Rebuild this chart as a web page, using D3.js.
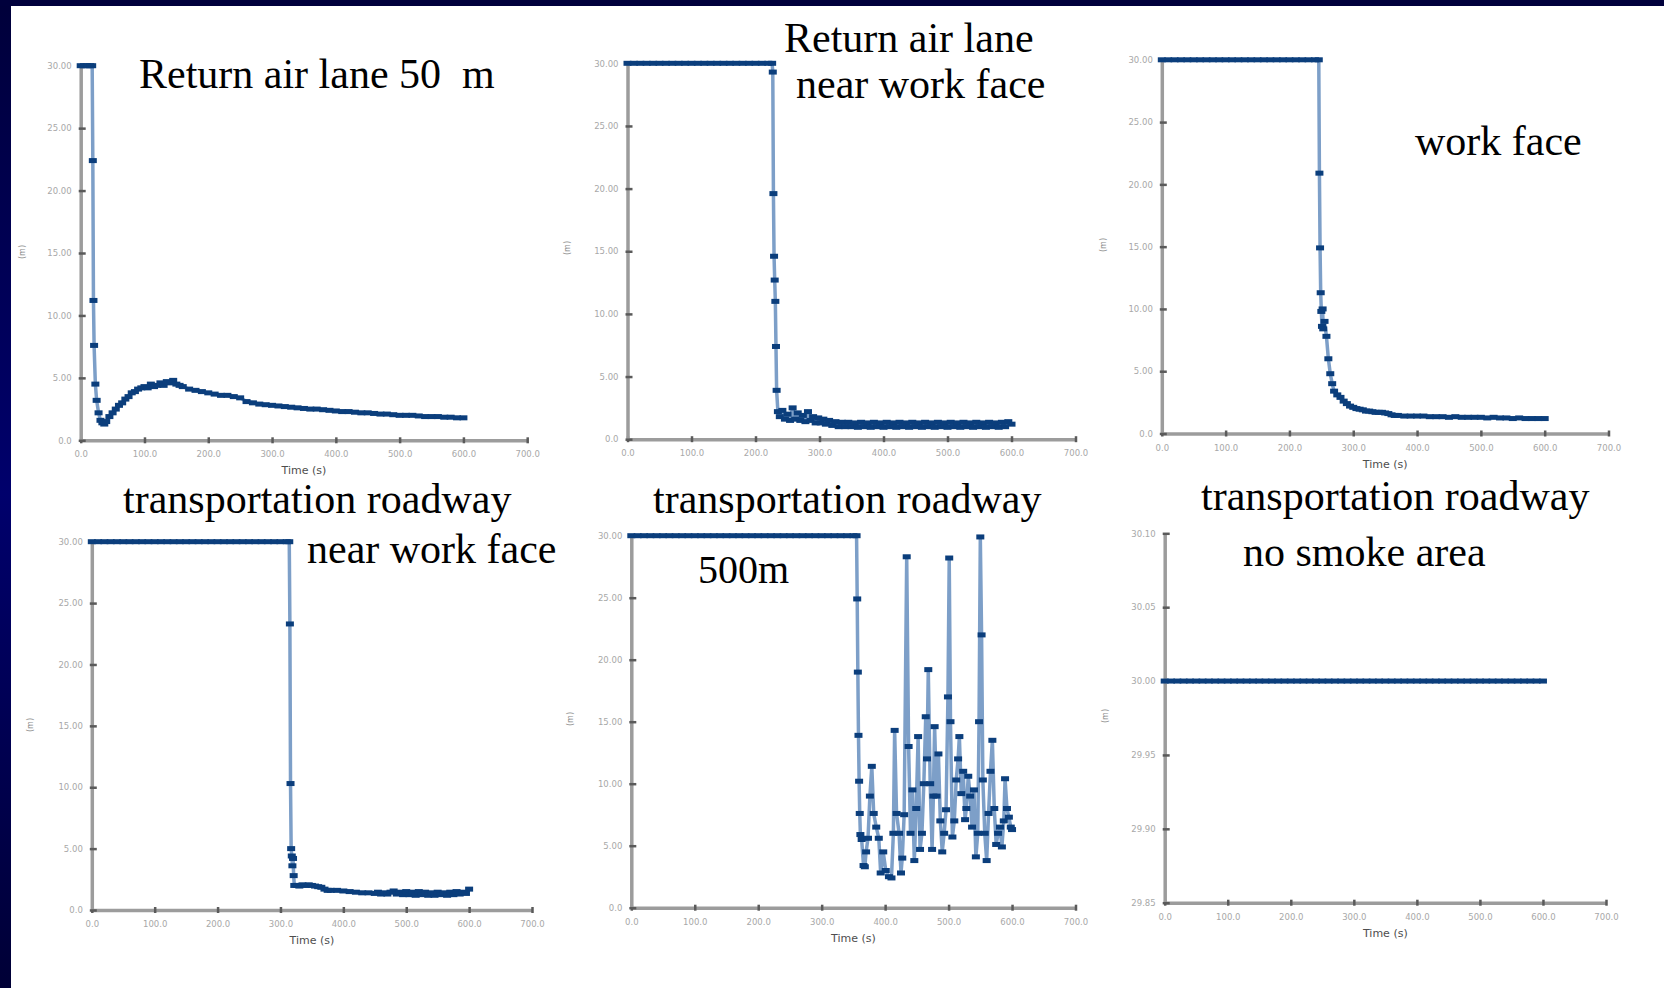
<!DOCTYPE html>
<html>
<head>
<meta charset="utf-8">
<script src="https://cdn.jsdelivr.net/npm/d3@7"></script>
<style>
  html, body { margin: 0; padding: 0; background: #ffffff; }
  svg { display: block; }
</style>
</head>
<body>
<svg id="chart" width="1664" height="988"></svg>
<script>
// ---------- tick values and labels ----------
const timeTicks = [0, 100, 200, 300, 400, 500, 600, 700];
const timeTickLabels = ["0.0", "100.0", "200.0", "300.0", "400.0", "500.0", "600.0", "700.0"];
const levelTicks = [0, 5, 10, 15, 20, 25, 30];
const levelTickLabels = ["0.0", "5.00", "10.00", "15.00", "20.00", "25.00", "30.00"];
const flatTicks = [29.85, 29.90, 29.95, 30.00, 30.05, 30.10];
const flatTickLabels = ["29.85", "29.90", "29.95", "30.00", "30.05", "30.10"];

// ---------- panel titles ----------
const titles = [
  ["Return air lane 50\u00a0 m"],
  ["Return air lane", "near work face"],
  ["work face"],
  ["transportation roadway", "near work face"],
  ["transportation roadway", "500m"],
  ["transportation roadway", "no smoke area"]
];

// ---------- monitored series: [time (s), value] ----------
const returnAirLane50m = [
  [0,30],[5,30],[10,30],[15,30],[18,30],[19,22.4],[20,11.2],[21,7.6],[23,4.5],[25,3.2],
  [28,2.2],[31,1.6],[34,1.4],[37,1.3],[40,1.5],[45,1.9],[50,2.2],[55,2.5],[60,2.8],[65,3.0],
  [70,3.3],[75,3.5],[80,3.8],[85,3.9],[90,4.1],[95,4.2],[100,4.3],[105,4.2],[110,4.5],[115,4.3],
  [120,4.4],[125,4.6],[130,4.4],[135,4.7],[140,4.6],[145,4.8],[150,4.5],[155,4.4],[160,4.3],
  [170,4.1],[180,4.0],[190,3.9],[200,3.8],[210,3.7],[220,3.6],[230,3.6],[240,3.5],[250,3.4],[260,3.1],
  [270,3.0],[280,2.9],[290,2.85],[300,2.8],[310,2.75],[320,2.7],[330,2.65],[340,2.6],[350,2.55],[360,2.5],
  [370,2.5],[380,2.45],[390,2.4],[400,2.35],[410,2.3],[420,2.3],[430,2.25],[440,2.2],[450,2.2],[460,2.15],
  [470,2.1],[480,2.1],[490,2.05],[500,2.0],[510,2.0],[520,2.0],[530,1.95],[540,1.9],[550,1.9],[560,1.9],
  [570,1.85],[580,1.85],[590,1.8],[600,1.8]
];

const returnAirNearFace = [
  [0,30],[10,30],[20,30],[30,30],[40,30],[50,30],[60,30],[70,30],[80,30],[90,30],[100,30],
  [110,30],[120,30],[130,30],[140,30],[150,30],[160,30],[170,30],[180,30],[190,30],[200,30],
  [210,30],[220,30],[226,30],[227,29.3],[228,19.6],[229,14.6],[230,12.7],[231,11.0],[232,7.4],
  [233,3.9],[235,2.2],[238,1.8],[242,2.3],[246,1.6],[250,2.0],[254,1.5],[258,2.5],[262,1.6],
  [266,2.1],[270,1.5],[274,1.9],[278,1.4],[282,2.2],[286,1.5],[290,1.8],[294,1.3],[298,1.7],
  [302,1.3],[306,1.6],[310,1.2],[315,1.5],[320,1.1],[325,1.4],[330,1.0],[335,1.35],[340,1.0],
  [345,1.35],[350,1.0],[355,1.3],[360,0.95],[365,1.35],[370,1.0],[375,1.3],[380,0.95],[385,1.35],
  [390,1.0],[395,1.3],[400,0.95],[405,1.35],[410,1.0],[415,1.3],[420,0.95],[425,1.35],[430,1.0],
  [435,1.3],[440,0.95],[445,1.35],[450,1.0],[455,1.3],[460,0.95],[465,1.35],[470,1.0],[475,1.3],
  [480,0.95],[485,1.35],[490,1.0],[495,1.3],[500,0.95],[505,1.35],[510,1.0],[515,1.3],[520,0.95],
  [525,1.35],[530,1.0],[535,1.3],[540,0.95],[545,1.35],[550,1.0],[555,1.3],[560,0.95],[565,1.35],
  [570,1.0],[575,1.3],[580,0.95],[585,1.35],[590,1.0],[595,1.4],[600,1.2]
];

const workFace = [
  [0,30],[10,30],[20,30],[30,30],[40,30],[50,30],[60,30],[70,30],[80,30],[90,30],[100,30],
  [110,30],[120,30],[130,30],[140,30],[150,30],[160,30],[170,30],[180,30],[190,30],[200,30],
  [210,30],[220,30],[230,30],[240,30],[246,30],[247,20.9],[248,14.9],[249,11.3],[250,9.8],
  [251,8.6],[252,10.0],[253,8.4],[255,9.0],[258,7.8],[261,6.0],[264,4.8],[267,4.0],[270,3.4],
  [275,3.1],[280,2.9],[285,2.6],[290,2.4],[295,2.2],[300,2.1],[305,2.0],[310,1.95],[315,1.9],
  [320,1.8],[325,1.8],[330,1.75],[335,1.7],[340,1.7],[345,1.7],[350,1.65],[355,1.6],[360,1.5],
  [365,1.45],[370,1.45],[380,1.4],[390,1.4],[400,1.4],[410,1.4],[420,1.35],[430,1.35],[440,1.35],
  [450,1.3],[460,1.35],[470,1.3],[480,1.3],[490,1.3],[500,1.3],[510,1.25],[520,1.3],[530,1.25],
  [540,1.25],[550,1.2],[560,1.25],[570,1.2],[580,1.2],[590,1.2],[600,1.2]
];

const roadwayNearFace = [
  [0,30],[10,30],[20,30],[30,30],[40,30],[50,30],[60,30],[70,30],[80,30],[90,30],[100,30],
  [110,30],[120,30],[130,30],[140,30],[150,30],[160,30],[170,30],[180,30],[190,30],[200,30],
  [210,30],[220,30],[230,30],[240,30],[250,30],[260,30],[270,30],[280,30],[290,30],[300,30],
  [310,30],[314,30],[315,23.3],[316,10.3],[317,5.0],[318,4.4],[319,3.6],[320,4.2],[321,2.8],
  [322,2.0],[326,2.0],[330,1.95],[335,2.05],[340,2.0],[345,2.05],[350,2.0],[355,1.95],[360,1.9],
  [365,1.85],[370,1.7],[375,1.6],[380,1.6],[390,1.6],[400,1.55],[410,1.5],[420,1.45],[430,1.4],
  [440,1.4],[450,1.35],[455,1.45],[460,1.3],[465,1.4],[470,1.3],[475,1.45],[480,1.55],[485,1.3],
  [490,1.45],[495,1.25],[500,1.5],[505,1.25],[510,1.45],[515,1.2],[520,1.5],[525,1.25],[530,1.45],
  [535,1.2],[540,1.4],[545,1.2],[550,1.45],[555,1.25],[560,1.4],[565,1.2],[570,1.45],[575,1.25],
  [580,1.5],[585,1.3],[590,1.45],[595,1.35],[600,1.7]
];

const roadway500m = [
  [0,30],[10,30],[20,30],[30,30],[40,30],[50,30],[60,30],[70,30],[80,30],[90,30],[100,30],
  [110,30],[120,30],[130,30],[140,30],[150,30],[160,30],[170,30],[180,30],[190,30],[200,30],
  [210,30],[220,30],[230,30],[240,30],[250,30],[260,30],[270,30],[280,30],[290,30],[300,30],
  [310,30],[320,30],[330,30],[340,30],[350,30],[355,30],[356,24.9],[357,19.0],[358,13.9],
  [359,10.2],[360,7.6],[361,5.9],[363,5.5],[366,3.4],[368,3.3],[370,4.5],[373,5.6],[376,9.0],
  [379,11.4],[382,7.6],[386,6.5],[390,5.6],[393,2.8],[397,4.5],[401,3.0],[406,2.5],[410,2.4],
  [413,6.0],[415,14.3],[418,7.6],[422,6.0],[425,2.8],[427,4.0],[430,7.5],[434,28.3],[437,13.0],
  [440,6.0],[443,9.5],[446,3.8],[449,8.0],[452,13.8],[455,4.7],[458,6.0],[461,10.0],[464,15.4],
  [466,12.0],[468,19.2],[471,10.0],[474,4.7],[476,9.0],[478,14.6],[481,9.0],[484,12.4],[487,7.0],
  [490,4.5],[493,6.0],[496,7.9],[499,17.0],[501,28.2],[503,15.0],[506,5.7],[509,7.0],[512,10.3],
  [515,12.0],[517,13.8],[520,9.2],[523,11.0],[526,7.1],[528,8.0],[531,10.6],[534,9.0],[537,6.5],
  [540,9.5],[543,4.1],[546,6.0],[548,15.0],[550,29.9],[552,22.0],[554,10.3],[557,6.0],[560,3.8],
  [563,7.6],[566,11.0],[569,13.5],[572,8.0],[575,5.1],[578,6.0],[581,6.5],[584,4.9],[587,7.0],
  [589,10.4],[592,8.0],[595,7.3],[598,6.5],[600,6.3]
];

const roadwayNoSmoke = [
  [0,30],[10,30],[20,30],[30,30],[40,30],[50,30],[60,30],[70,30],[80,30],[90,30],[100,30],
  [110,30],[120,30],[130,30],[140,30],[150,30],[160,30],[170,30],[180,30],[190,30],[200,30],
  [210,30],[220,30],[230,30],[240,30],[250,30],[260,30],[270,30],[280,30],[290,30],[300,30],
  [310,30],[320,30],[330,30],[340,30],[350,30],[360,30],[370,30],[380,30],[390,30],[400,30],
  [410,30],[420,30],[430,30],[440,30],[450,30],[460,30],[470,30],[480,30],[490,30],[500,30],
  [510,30],[520,30],[530,30],[540,30],[550,30],[560,30],[570,30],[580,30],[590,30],[600,30]
];

// ---------- panel frames ----------
const level = { domain: [0, 30], ticks: levelTicks, labels: levelTickLabels };
const flat = { domain: [29.85, 30.10], ticks: flatTicks, labels: flatTickLabels };

const panels = [
  { series: returnAirLane50m, axis: level, left: 80.7, right: 527.2, top: 65.7, bottom: 440.3,
    title: titles[0], titleAt: [[139, 88, 42]], unitAt: [22, 252], timeLabel: true },
  { series: returnAirNearFace, axis: level, left: 627.5, right: 1075.5, top: 63.3, bottom: 439.2,
    title: titles[1], titleAt: [[784, 52, 42], [796, 98, 42]], unitAt: [567, 248], timeLabel: false },
  { series: workFace, axis: level, left: 1161.8, right: 1608.5, top: 59.8, bottom: 433.5,
    title: titles[2], titleAt: [[1415, 155, 42]], unitAt: [1103, 245], timeLabel: true },
  { series: roadwayNearFace, axis: level, left: 91.8, right: 532, top: 541.7, bottom: 910,
    title: titles[3], titleAt: [[123, 513, 42], [307, 563, 42]], unitAt: [30, 725], timeLabel: true },
  { series: roadway500m, axis: level, left: 631.3, right: 1075.5, top: 535.7, bottom: 907.7,
    title: titles[4], titleAt: [[653, 513, 42], [698, 583, 40]], unitAt: [570, 719], timeLabel: true },
  { series: roadwayNoSmoke, axis: flat, left: 1164.7, right: 1606, top: 533.3, bottom: 902.7,
    title: titles[5], titleAt: [[1201, 510, 42], [1243, 566, 42]], unitAt: [1105, 716], timeLabel: true }
];

const svg = d3.select("#chart");

// slide frame: navy strips on the top and left edges
const defs = svg.append("defs");
const grad = defs.append("linearGradient").attr("id", "edgeNavy")
  .attr("x1", 0).attr("y1", 0).attr("x2", 0).attr("y2", 1);
grad.append("stop").attr("offset", "0%").attr("stop-color", "#00003a");
grad.append("stop").attr("offset", "50%").attr("stop-color", "#00006c");
grad.append("stop").attr("offset", "100%").attr("stop-color", "#000036");

svg.append("rect").attr("x", 0).attr("y", 0).attr("width", 1664).attr("height", 988).attr("fill", "#ffffff");
svg.append("rect").attr("x", 0).attr("y", 0).attr("width", 11).attr("height", 988).attr("fill", "url(#edgeNavy)");
svg.append("rect").attr("x", 0).attr("y", 0).attr("width", 1664).attr("height", 6).attr("fill", "#00003c");

const LINE_COLOR = "#7d9fc8";
const MARK_COLOR = "#0b3e7c";

panels.forEach(p => {
  const g = svg.append("g");
  const x = d3.scaleLinear().domain([0, 700]).range([p.left, p.right]);
  const y = d3.scaleLinear().domain(p.axis.domain).range([p.bottom, p.top]);

  // x axis
  const xAxis = d3.axisBottom(x)
    .tickValues(timeTicks)
    .tickFormat((d, i) => timeTickLabels[i])
    .tickSizeInner(3).tickSizeOuter(0).tickPadding(8);
  const gx = g.append("g").attr("transform", `translate(0,${p.bottom})`).call(xAxis);
  gx.select(".domain").attr("stroke", "#9c9c9c").attr("stroke-width", 3.5);
  gx.selectAll(".tick line").attr("y1", -3).attr("y2", 3).attr("stroke", "#5a5a5a").attr("stroke-width", 2.5);
  gx.selectAll(".tick text").attr("fill", "#a8a8a8").attr("font-size", 8.5)
    .attr("font-family", "DejaVu Sans, sans-serif");

  // y axis
  const yAxis = d3.axisLeft(y)
    .tickValues(p.axis.ticks)
    .tickFormat((d, i) => p.axis.labels[i])
    .tickSizeInner(2).tickSizeOuter(0).tickPadding(7);
  const gy = g.append("g").attr("transform", `translate(${p.left},0)`).call(yAxis);
  gy.select(".domain").attr("stroke", "#9c9c9c").attr("stroke-width", 3.5);
  gy.selectAll(".tick line").attr("x1", -2).attr("x2", 5).attr("stroke", "#5a5a5a").attr("stroke-width", 2.5);
  gy.selectAll(".tick text").attr("fill", "#a8a8a8").attr("font-size", 8.5)
    .attr("font-family", "DejaVu Sans, sans-serif");

  // axis captions
  if (p.timeLabel) {
    g.append("text")
      .attr("x", (p.left + p.right) / 2).attr("y", p.bottom + 34)
      .attr("text-anchor", "middle")
      .attr("font-family", "DejaVu Sans, sans-serif").attr("font-size", 11)
      .attr("fill", "#4e4e4e")
      .text("Time (s)");
  }
  g.append("text")
    .attr("transform", `translate(${p.unitAt[0]},${p.unitAt[1]}) rotate(-90)`)
    .attr("text-anchor", "middle").attr("dy", "0.35em")
    .attr("font-family", "DejaVu Sans, sans-serif").attr("font-size", 8)
    .attr("fill", "#8a8a8a")
    .text("(m)");

  // series line and sample markers
  const line = d3.line().x(d => x(d[0])).y(d => y(d[1]));
  g.append("path").datum(p.series)
    .attr("fill", "none").attr("stroke", LINE_COLOR).attr("stroke-width", 3.5)
    .attr("stroke-linejoin", "round")
    .attr("d", line);
  g.selectAll("rect.mark").data(p.series).join("rect")
    .attr("class", "mark")
    .attr("x", d => x(d[0]) - 4).attr("y", d => y(d[1]) - 2.5)
    .attr("width", 8).attr("height", 5)
    .attr("fill", MARK_COLOR);

  // title
  p.title.forEach((t, i) => {
    const [tx, ty, fs] = p.titleAt[i];
    g.append("text")
      .attr("x", tx).attr("y", ty)
      .attr("font-family", "Liberation Serif, Times New Roman, serif")
      .attr("font-size", fs)
      .attr("fill", "#000000")
      .style("white-space", "pre")
      .text(t);
  });
});
</script>
</body>
</html>
